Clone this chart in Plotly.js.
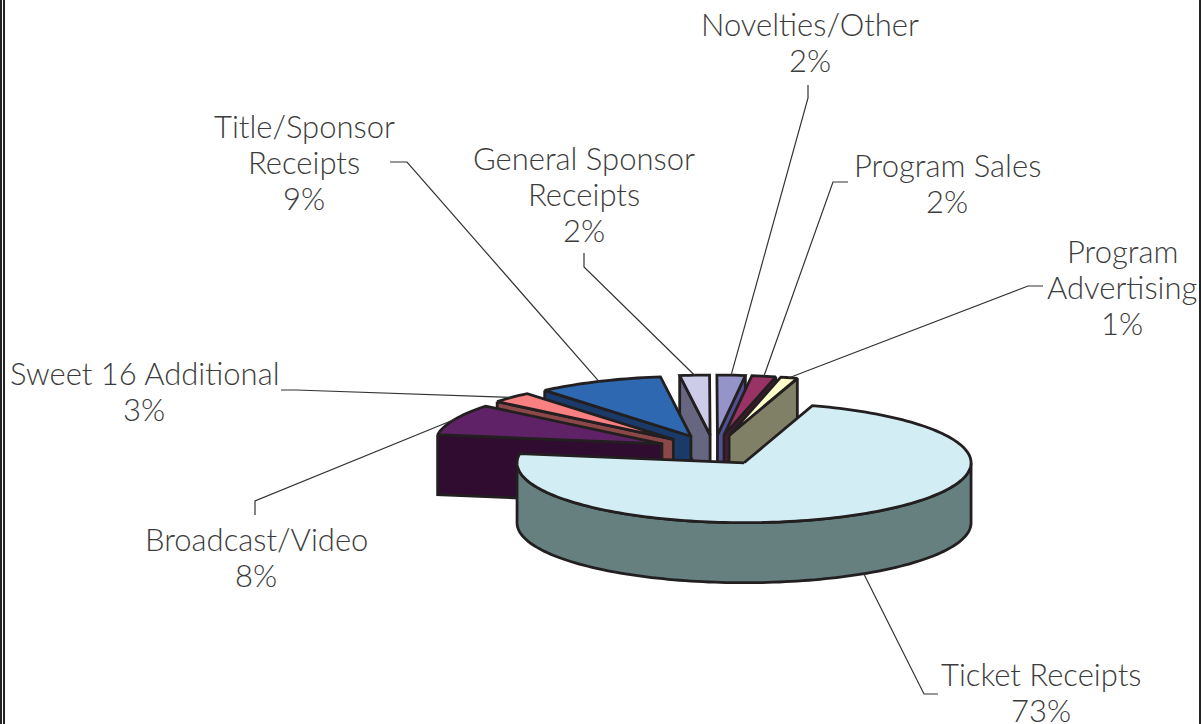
<!DOCTYPE html>
<html>
<head>
<meta charset="utf-8">
<script src="https://cdn.plot.ly/plotly-3.0.1.min.js"></script>
<style>html,body{margin:0;padding:0;background:#fff;overflow:hidden}#chart{width:1201px;height:724px}</style>
</head>
<body>
<div id="chart"></div>
<script>
// ---- data (clockwise from the Ticket Receipts slice) ----
const categories = ['Ticket Receipts','Broadcast/Video','Sweet 16 Additional','Title/Sponsor Receipts','General Sponsor Receipts','Novelties/Other','Program Sales','Program Advertising'];
const shares = [72.6, 8.4, 3.0, 9.0, 2.1, 2.0, 1.7, 1.2];
const labelLines = [['Ticket Receipts'],['Broadcast/Video'],['Sweet 16 Additional'],['Title/Sponsor','Receipts'],['General Sponsor','Receipts'],['Novelties/Other'],['Program Sales'],['Program','Advertising']];

// ---- styles ----
const topColors  = ['#d3edf5','#5f2266','#f98080','#2e68b0','#cccce8','#9494c8','#993366','#ffffcc'];
const wallColors = ['#668080','#2f0c30','#8c4848','#1a3a6a','#666680','#505090','#4d1a33','#808066'];
const OUTLINE = '#231f20';

// ---- projection of the tilted pie ----
const CX = 714, CY = 450, RX = 227, TILT = 0.264, DEPTH = 60, EXPLODE = 57, START = 72.5;
const LINE_GAP = 36;
const rad = d => d * Math.PI / 180;
const total = shares.reduce((a, b) => a + b, 0);

// ---- label placement in pixels: text centre, then leader elbow path ----
const labelCentres = [[1041,692],[256,557],[144,391],[304,162],[584,194],[810,42],[947,183],[1122,287]];
const leaderElbows = [[[938,694],[924,694]],[[255,515],[255,501]],[[281,390],[296,390]],[[390,162],[407,162]],[[584,253],[584,267]],[[808,85],[808,98]],[[848,182],[833,182]],[[1043,286],[1028,286]]];

let a = START;
const slices = shares.map((v, i) => {
  const sweep = v / total * 360, from = a, to = a - sweep;
  a = to;
  const mid = (from + to) / 2;
  const ax = CX + EXPLODE * Math.cos(rad(mid));
  const ay = CY - EXPLODE * TILT * Math.sin(rad(mid));
  const ry = RX * TILT;
  const pt = t => [ax + RX * Math.cos(rad(t)), ay - ry * Math.sin(rad(t))];
  return {i, v, from, to, mid, ax, ay, pt};
});

const traces = [];
function poly(pts, fill) {
  traces.push({type:'scatter', mode:'lines', x:pts.map(p=>p[0]), y:pts.map(p=>p[1]), fill:'toself', fillcolor:fill,
    line:{color:OUTLINE, width:2.8, simplify:false}, hoverinfo:'skip', showlegend:false});
}
function arc(s, t0, t1) {
  const n = Math.max(2, Math.ceil(Math.abs(t1 - t0) / 1.5)), out = [];
  for (let k = 0; k <= n; k++) out.push(s.pt(t0 + (t1 - t0) * k / n));
  return out;
}
const down = p => [p[0], p[1] + DEPTH];

// painter's order: farthest slice first
[...slices].sort((p, q) => Math.sin(rad(q.mid)) - Math.sin(rad(p.mid))).forEach(s => {
  const apex = [s.ax, s.ay];
  if (s.i === 0) {
    const front = arc(s, 0, -180);
    poly(front.concat(front.map(down).reverse()).concat([front[0]]), wallColors[0]);
  } else {
    // the radial wall that faces the viewer: leading edge on the left, trailing edge on the right
    const outer = Math.cos(rad(s.mid)) < 0 ? s.pt(s.from) : s.pt(s.to);
    poly([outer, apex, down(apex), down(outer), outer], wallColors[s.i]);
  }
  poly([apex].concat(arc(s, s.from, s.to)).concat([apex]), topColors[s.i]);
});

// leaders, anchored on the outer edge of each slice
slices.forEach(s => {
  const edge = s.pt(s.mid);
  if (Math.sin(rad(s.mid)) < 0) edge[1] += DEPTH;
  const path = leaderElbows[s.i].concat([edge]);
  traces.push({type:'scatter', mode:'lines', x:path.map(p=>p[0]), y:path.map(p=>p[1]),
    line:{color:'#333333', width:1.2}, hoverinfo:'skip', showlegend:false});
});

const annotations = [];
slices.forEach(s => {
  const lines = labelLines[s.i].concat([Math.round(s.v) + '%']);
  lines.forEach((txt, k) => annotations.push({
    xref:'x', yref:'y', x:labelCentres[s.i][0], y:labelCentres[s.i][1] + (k - (lines.length - 1) / 2) * LINE_GAP,
    xanchor:'center', yanchor:'middle', align:'center', showarrow:false, text:txt,
    font:{family:'Lato, "Open Sans", sans-serif', size:31, weight:300, color:'#3c3c3c'}
  }));
});

const frame = [[1,2],[4,2],[1200,2]].map(f => ({type:'line', xref:'x', yref:'paper', x0:f[0], x1:f[0], y0:0, y1:1, line:{color:'#222222', width:f[1]}}));

Plotly.newPlot('chart', traces, {
  width:1201, height:724, margin:{l:0,r:0,t:0,b:0}, paper_bgcolor:'#ffffff', plot_bgcolor:'#ffffff',
  xaxis:{range:[0,1201], visible:false, fixedrange:true},
  yaxis:{range:[724,0], visible:false, fixedrange:true},
  annotations, shapes:frame, showlegend:false
}, {displayModeBar:false, staticPlot:true});
</script>
</body>
</html>
